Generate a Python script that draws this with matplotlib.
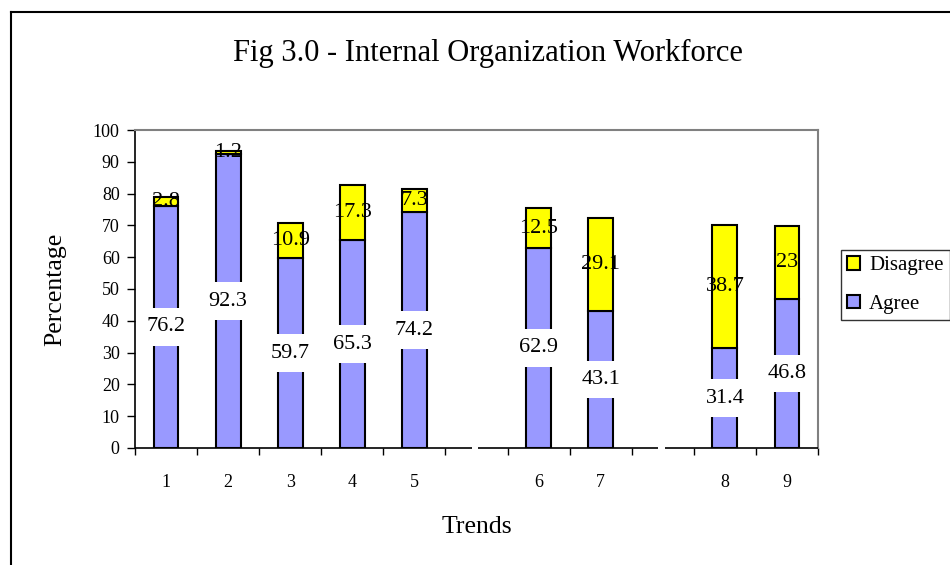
import numpy as np
import matplotlib
matplotlib.use("Agg")
import matplotlib.pyplot as plt
from matplotlib.lines import Line2D

plt.rcParams['font.family'] = ['Liberation Serif', 'DejaVu Serif']

# data; None marks the empty slots between groups
trends = ['1', '2', '3', '4', '5', None, '6', '7', None, '8', '9']
agree = [76.2, 92.3, 59.7, 65.3, 74.2, 62.9, 43.1, 31.4, 46.8]
disagree = [2.8, 1.2, 10.9, 17.3, 7.3, 12.5, 29.1, 38.7, 23]
title = 'Fig 3.0 - Internal Organization Workforce'

c_agree = '#9999FF'
c_dis = '#FFFF00'

fig = plt.figure(figsize=(9.5, 5.65), dpi=100)
ax = fig.add_axes([0.1421, 0.2071, 0.7190, 0.5628])

# slot positions of the real categories
xs = [i for i, t in enumerate(trends) if t is not None]
labels = [t for t in trends if t is not None]
agree = np.array(agree)
disagree = np.array(disagree)

w = 0.4
b1 = ax.bar(xs, agree, w, color=c_agree, edgecolor='black', linewidth=1.5, label='Agree', zorder=2)
b2 = ax.bar(xs, disagree, w, bottom=agree, color=c_dis, edgecolor='black', linewidth=1.5,
            label='Disagree', zorder=2)

for x, a, d in zip(xs, agree, disagree):
    ax.text(x, a / 2, '%g' % a, ha='center', va='center', fontsize=16, zorder=3,
            bbox=dict(boxstyle='square,pad=0.42', facecolor='white', edgecolor='none'))
    ax.text(x, a + d / 2, '%g' % d, ha='center', va='center', fontsize=16, zorder=3)

n = len(trends)
ax.set_xlim(-0.5, n - 0.5)
ax.set_ylim(0, 100)
ax.set_yticks(np.arange(0, 101, 10))

# tick marks on the slot boundaries, labels at the slot centres
ax.set_xticks(np.arange(n + 1) - 0.5)
ax.set_xticklabels([])
ax.set_xticks(xs, minor=True)
ax.set_xticklabels(labels, minor=True)
ax.tick_params(axis='x', which='major', direction='out', length=5, width=1, color='black')
ax.tick_params(axis='x', which='minor', length=0, pad=19, labelsize=13)
ax.tick_params(axis='y', direction='out', length=6, width=1, pad=5, labelsize=13)

for s in ['top', 'right']:
    ax.spines[s].set_color('#808080')
    ax.spines[s].set_linewidth(1.5)
ax.spines['left'].set_linewidth(1.2)
ax.spines['bottom'].set_visible(False)

# x axis line, broken at the empty slots
gaps = [i for i, t in enumerate(trends) if t is None]
edges = [-0.5]
for g in gaps:
    edges += [g - 0.08, g + 0.03]
edges.append(n - 0.5)
for k in range(0, len(edges), 2):
    ax.plot([edges[k], edges[k + 1]], [0, 0], color='black', linewidth=1.2,
            clip_on=False, zorder=4, solid_capstyle='butt')

fig.text(55 / 950, 1 - 289 / 565, 'Percentage', ha='center', va='center', rotation=90, fontsize=18.5)
fig.text(477 / 950, 1 - 527 / 565, 'Trends', ha='center', va='center', fontsize=18.5)
fig.text(488 / 950, 1 - 53 / 565, title, ha='center', va='center', fontsize=22)

leg = ax.legend([b2, b1], ['Disagree', 'Agree'], loc='upper left',
                bbox_to_anchor=(841 / 950, 1 - 250 / 565), bbox_transform=fig.transFigure,
                fontsize=15, frameon=True, fancybox=False, edgecolor='black',
                handlelength=0.6, handleheight=0.6, handletextpad=0.45, borderpad=0.3,
                borderaxespad=0, labelspacing=0.95)
leg.get_frame().set_linewidth(1.0)

# outer chart border (only the left and top edges show)
fig.add_artist(Line2D([11 / 950, 11 / 950], [0, 1 - 12 / 565], color='black', linewidth=1.5,
                      transform=fig.transFigure))
fig.add_artist(Line2D([11 / 950, 1], [1 - 12 / 565, 1 - 12 / 565], color='black', linewidth=1.5,
                      transform=fig.transFigure))

fig.savefig('out.png', dpi=100)
